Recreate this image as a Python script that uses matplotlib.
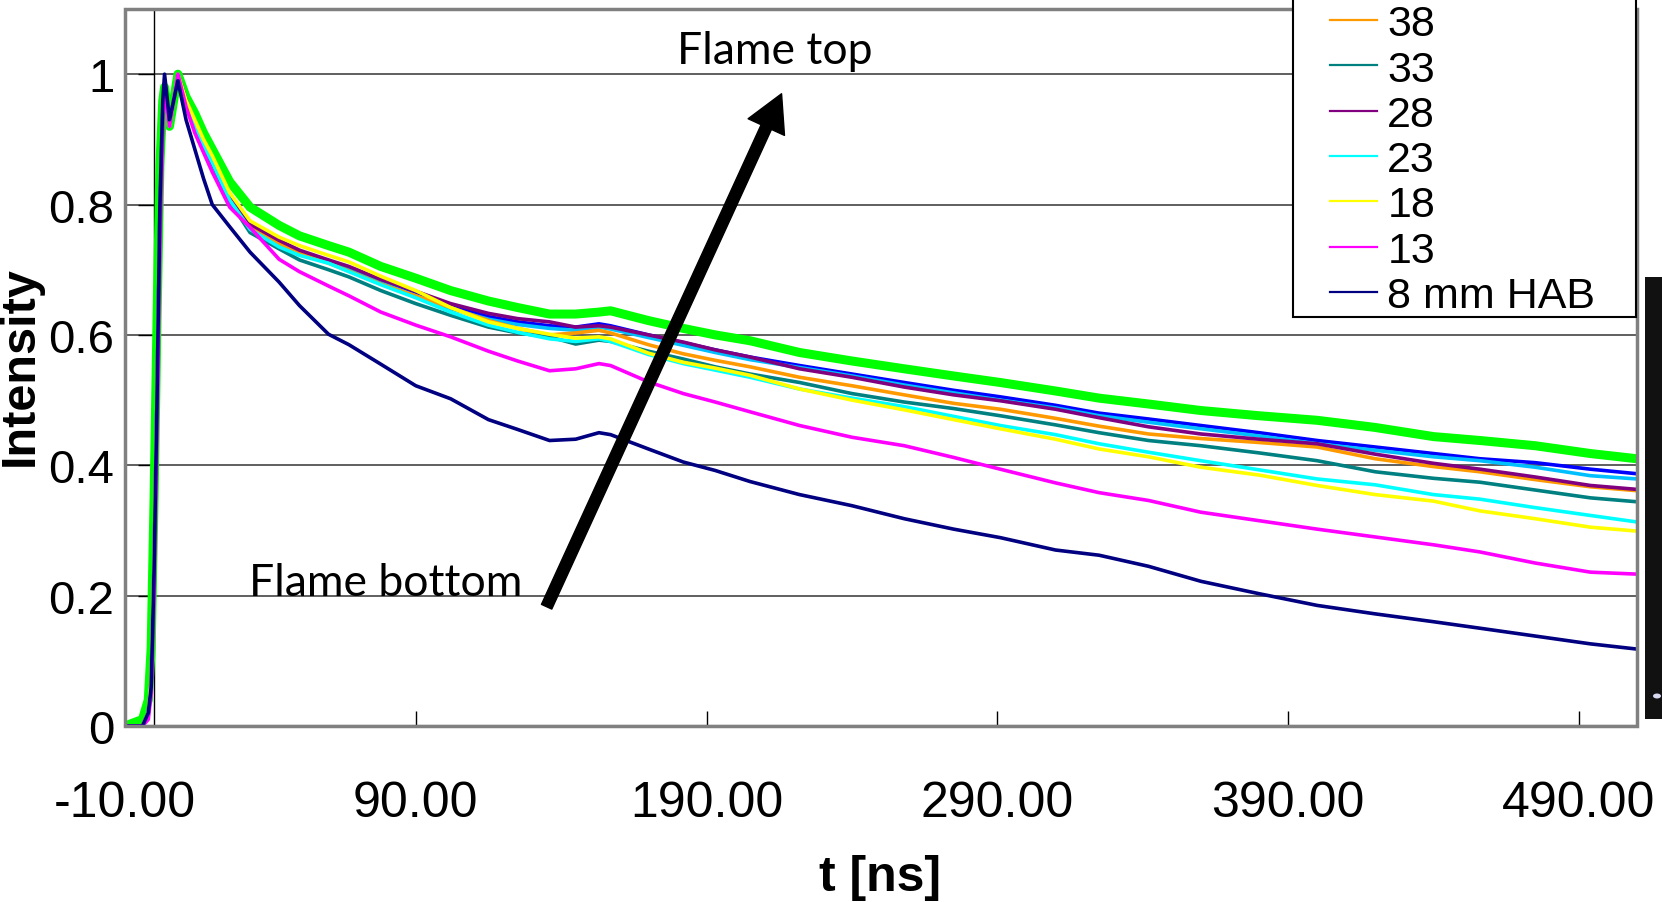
import matplotlib
matplotlib.use("Agg")
import matplotlib.pyplot as plt
from matplotlib.patches import Rectangle, Ellipse, FancyArrowPatch
from matplotlib.lines import Line2D

# ---- data ----
t_ns = [-10, -4, -2, -1, 0, 1, 2, 3, 3.6, 5.3, 8.2, 11, 14, 17, 20, 26, 33, 43, 50, 60,
        67, 78, 90, 102, 115, 125, 136, 145, 153, 157, 170, 182, 193, 205, 222, 240, 258,
        275, 291, 310, 325, 342, 360, 380, 400, 420, 440, 456, 475, 494, 510]

hab_53 = [0, 0.01, 0.04, 0.12, 0.35, 0.62, 0.86, 0.96, 0.98, 0.92, 1.0, 0.965, 0.94, 0.91, 0.885,
          0.835, 0.796, 0.768, 0.752, 0.737, 0.727, 0.705, 0.687, 0.668, 0.652, 0.642, 0.632,
          0.632, 0.635, 0.637, 0.622, 0.61, 0.60, 0.591, 0.573, 0.56, 0.548, 0.537, 0.527,
          0.514, 0.503, 0.494, 0.484, 0.476, 0.469, 0.458, 0.444, 0.438, 0.43, 0.418, 0.41]
hab_48 = [0, 0, 0.02, 0.07, 0.25, 0.5, 0.78, 0.94, 0.98, 0.92, 1.0, 0.96, 0.925, 0.895, 0.87,
          0.815, 0.77, 0.745, 0.728, 0.714, 0.703, 0.683, 0.664, 0.645, 0.628, 0.62, 0.614,
          0.612, 0.617, 0.614, 0.60, 0.588, 0.577, 0.566, 0.553, 0.54, 0.527, 0.515, 0.505,
          0.492, 0.48, 0.471, 0.461, 0.45, 0.438, 0.428, 0.418, 0.41, 0.404, 0.394, 0.387]
hab_43 = [0, 0, 0.02, 0.07, 0.25, 0.5, 0.78, 0.94, 0.98, 0.92, 1.0, 0.96, 0.925, 0.895, 0.868,
          0.812, 0.768, 0.742, 0.726, 0.712, 0.70, 0.68, 0.66, 0.64, 0.624, 0.616, 0.61,
          0.607, 0.612, 0.609, 0.596, 0.584, 0.573, 0.562, 0.55, 0.537, 0.523, 0.511, 0.50,
          0.488, 0.476, 0.466, 0.456, 0.445, 0.433, 0.423, 0.413, 0.407, 0.397, 0.384, 0.379]
hab_38 = [0, 0, 0.02, 0.07, 0.25, 0.5, 0.78, 0.94, 0.98, 0.92, 1.0, 0.955, 0.92, 0.89, 0.865,
          0.81, 0.765, 0.74, 0.725, 0.71, 0.698, 0.678, 0.66, 0.642, 0.622, 0.61, 0.60,
          0.603, 0.607, 0.603, 0.585, 0.571, 0.561, 0.551, 0.535, 0.522, 0.508, 0.495, 0.486,
          0.472, 0.46, 0.448, 0.441, 0.435, 0.428, 0.41, 0.398, 0.39, 0.378, 0.367, 0.361]
hab_33 = [0, 0, 0.02, 0.07, 0.25, 0.5, 0.78, 0.94, 0.98, 0.92, 1.0, 0.955, 0.92, 0.89, 0.862,
          0.805, 0.757, 0.732, 0.715, 0.70, 0.689, 0.668, 0.648, 0.63, 0.612, 0.603, 0.597,
          0.586, 0.592, 0.59, 0.575, 0.563, 0.551, 0.54, 0.527, 0.51, 0.497, 0.487, 0.476,
          0.462, 0.45, 0.438, 0.43, 0.419, 0.407, 0.39, 0.38, 0.374, 0.362, 0.35, 0.344]
hab_28 = [0, 0, 0.02, 0.07, 0.25, 0.5, 0.78, 0.94, 0.98, 0.92, 1.0, 0.96, 0.925, 0.895, 0.87,
          0.815, 0.77, 0.745, 0.73, 0.715, 0.705, 0.685, 0.667, 0.648, 0.633, 0.625, 0.62,
          0.612, 0.614, 0.612, 0.60, 0.589, 0.577, 0.566, 0.548, 0.535, 0.52, 0.508, 0.499,
          0.486, 0.473, 0.459, 0.448, 0.44, 0.433, 0.417, 0.403, 0.394, 0.382, 0.369, 0.363]
hab_23 = [0, 0, 0.02, 0.07, 0.25, 0.5, 0.78, 0.94, 0.98, 0.92, 1.0, 0.955, 0.92, 0.89, 0.865,
          0.807, 0.762, 0.735, 0.722, 0.71, 0.697, 0.677, 0.657, 0.635, 0.615, 0.604, 0.594,
          0.59, 0.594, 0.59, 0.57, 0.556, 0.546, 0.535, 0.517, 0.503, 0.49, 0.475, 0.461,
          0.447, 0.433, 0.42, 0.407, 0.393, 0.379, 0.37, 0.355, 0.348, 0.335, 0.323, 0.313]
hab_18 = [0, 0, 0.02, 0.07, 0.25, 0.5, 0.78, 0.94, 0.98, 0.92, 1.0, 0.96, 0.93, 0.90, 0.875,
          0.818, 0.775, 0.75, 0.737, 0.722, 0.712, 0.69, 0.668, 0.642, 0.62, 0.61, 0.601,
          0.595, 0.597, 0.594, 0.572, 0.558, 0.549, 0.538, 0.517, 0.50, 0.485, 0.47, 0.456,
          0.44, 0.425, 0.413, 0.397, 0.385, 0.369, 0.355, 0.345, 0.33, 0.318, 0.305, 0.299]
hab_13 = [0, 0, 0.01, 0.05, 0.2, 0.45, 0.74, 0.92, 0.98, 0.92, 1.0, 0.95, 0.91, 0.88, 0.85,
          0.796, 0.765, 0.716, 0.697, 0.675, 0.66, 0.635, 0.615, 0.597, 0.575, 0.56, 0.545,
          0.548, 0.556, 0.553, 0.528, 0.51, 0.497, 0.482, 0.461, 0.443, 0.43, 0.412, 0.394,
          0.373, 0.358, 0.346, 0.328, 0.315, 0.302, 0.29, 0.278, 0.267, 0.25, 0.236, 0.233]
hab_8 = [0, 0, 0.02, 0.06, 0.24, 0.5, 0.8, 0.96, 1.0, 0.93, 0.99, 0.93, 0.885, 0.84, 0.80,
         0.766, 0.727, 0.681, 0.645, 0.601, 0.585, 0.555, 0.522, 0.502, 0.47, 0.455, 0.438,
         0.44, 0.45, 0.447, 0.425, 0.405, 0.392, 0.375, 0.355, 0.338, 0.318, 0.302, 0.289,
         0.27, 0.262, 0.245, 0.222, 0.203, 0.185, 0.172, 0.16, 0.15, 0.138, 0.126, 0.118]

series_labels = ["53", "48", "43", "38", "33", "28", "23", "18", "13", "8 mm HAB"]
series_values = [hab_53, hab_48, hab_43, hab_38, hab_33, hab_28, hab_23, hab_18, hab_13, hab_8]
series_colors = ["#00FF00", "#0000FF", "#00BFFF", "#FF9900", "#008080", "#800080",
                 "#00FFFF", "#FFFF00", "#FF00FF", "#000080"]
# entries of the legend that are visible in the reference (the upper ones are cut off)
legend_visible = ["38", "33", "28", "23", "18", "13", "8 mm HAB"]

x_ticks = [-10, 90, 190, 290, 390, 490]
x_ticklabels = ["-10.00", "90.00", "190.00", "290.00", "390.00", "490.00"]
y_ticks = [0, 0.2, 0.4, 0.6, 0.8, 1.0]
y_ticklabels = ["0", "0.2", "0.4", "0.6", "0.8", "1"]

# ---- figure ----
W, H = 1662, 903
fig = plt.figure(figsize=(W / 100, H / 100), dpi=100)
plt.rcParams['font.family'] = ['Liberation Sans', 'DejaVu Sans']

ax = fig.add_axes([125 / W, 1 - 727 / H, (1637 - 125) / W, (727 - 10) / H])
ax.set_xlim(-10, 510)
ax.set_ylim(0, 1.1)

handles = []
for lab, vals, col in zip(series_labels, series_values, series_colors):
    lw = 6.5 if col == "#00FF00" else 2.6
    ax.plot(t_ns, vals, color=col, lw=lw, zorder=3, solid_joinstyle='round')
    if lab in legend_visible:
        handles.append(Line2D([], [], color=col, lw=1.6, label=lab))

# grid and axes
ax.yaxis.grid(True, color='#444444', lw=1.2, zorder=1)
ax.set_axisbelow(True)
for s in ['top', 'right']:
    ax.spines[s].set_visible(False)
ax.spines['bottom'].set_color('black')
ax.spines['bottom'].set_linewidth(1.5)
ax.spines['left'].set_position(('data', 0))
ax.spines['left'].set_color('black')
ax.spines['left'].set_linewidth(1.0)

ax.set_xticks(x_ticks)
ax.set_xticklabels(x_ticklabels)
ax.set_yticks(y_ticks)
ax.set_yticklabels(y_ticklabels)
ax.tick_params(axis='x', direction='in', length=10.8, width=1, colors='black',
               labelsize=36, pad=39)
ax.tick_params(axis='y', direction='out', length=11.5, width=1, colors='black',
               labelsize=34, pad=17)

# outer gray frame
ax.add_patch(Rectangle((0, 0), 1, 1, transform=ax.transAxes, fill=False,
                       ec='#808080', lw=2.5, clip_on=False, zorder=6))

# legend box (top part lies outside the figure)
lx0, lx1, ly = 1293, 1636, 318
fig.patches.append(Rectangle((lx0 / W, 1 - ly / H), (lx1 - lx0) / W, ly / H + 0.1,
                             transform=fig.transFigure, fc='white', ec='black', lw=1.5,
                             zorder=4))
leg = fig.legend(handles=handles, loc='lower left',
                 bbox_to_anchor=(1330 / W, 1 - 317 / H), bbox_transform=fig.transFigure,
                 frameon=False, fontsize=31, borderpad=0, borderaxespad=0,
                 handlelength=1.1, handletextpad=0.23, labelspacing=0.123)
leg.set_zorder(7)

# annotation texts and arrow
ax.text(213.5, 1.036, "Flame top", fontsize=32, family=['Lato', 'DejaVu Sans'],
        ha='center', va='center', zorder=8)
ax.text(79.8, 0.22, "Flame bottom", fontsize=32, family=['Lato', 'DejaVu Sans'],
        ha='center', va='center', zorder=8)
arrow = FancyArrowPatch((135.0, 0.183), (215.8, 0.970),
                        arrowstyle="simple,head_length=1.1,head_width=1.2,tail_width=0.34",
                        mutation_scale=24, color='black', zorder=9, shrinkA=0, shrinkB=0)
ax.add_patch(arrow)

# axis titles
fig.text(880 / W, 1 - 878 / H, "t [ns]", fontsize=36, fontweight='bold',
         ha='center', va='center')
fig.text(20 / W, 1 - 366 / H, "Intensity", fontsize=35, fontweight='bold',
         ha='center', va='center', rotation=90)

# dark photo strip on the right edge
fig.patches.append(Rectangle((1645 / W, 1 - 720 / H), 0.02, (720 - 278) / H,
                             transform=fig.transFigure, fc='#111111', ec='none'))
fig.patches.append(Ellipse((1657 / W, 1 - 697 / H), 8 / W, 5 / H,
                           transform=fig.transFigure, fc='#d8d8f0', ec='none'))

fig.savefig("out.png", dpi=100)
